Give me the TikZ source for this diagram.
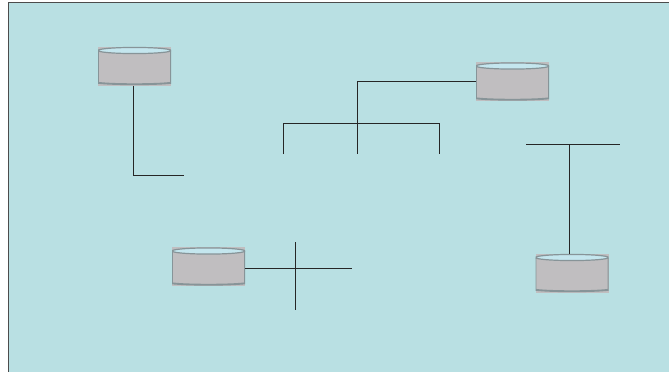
\documentclass[tikz,border=0pt]{standalone}
\definecolor{panel}{RGB}{185,224,227}
\definecolor{drumbody}{RGB}{192,190,192}
\definecolor{drumtop}{RGB}{196,230,238}
\definecolor{drumline}{RGB}{135,148,152}
\begin{document}
\begin{tikzpicture}[x=0.75pt, y=-0.75pt,
    drum/.style={rectangle, fill=drumbody, minimum width=54.75pt, minimum height=29.25pt,
        inner sep=0pt, outer sep=0pt,
        path picture={
            \draw[drumline, line width=1.4pt]
                ([yshift=-3pt]path picture bounding box.north west)
                -- ([yshift=2pt]path picture bounding box.south west)
                .. controls ([shift={(12pt,0.6pt)}]path picture bounding box.south west)
                and ([shift={(-12pt,0.6pt)}]path picture bounding box.south east)
                .. ([yshift=2pt]path picture bounding box.south east)
                -- ([yshift=-3pt]path picture bounding box.north east);
            \draw[drumline, fill=drumtop, line width=0.9pt]
                ([yshift=-3pt]path picture bounding box.north) ellipse (27.4pt and 2.3pt);
        }},
    wire/.style={draw=black!85, line width=0.75pt}]

    \useasboundingbox (0,0) rectangle (669,372);

    % Background
    \fill[white] (0,0) rectangle (669,372);
    \fill[panel] (9,3) rectangle (669,372);
    \draw[black!70, line width=0.9pt] (8.5,372) -- (8.5,2.5) -- (669,2.5);

    % Drums
    \node[drum] (d1) at (134.5,66) {};
    \node[drum] (d2) at (512.5,81.5) {};
    \node[drum] (d3) at (208.5,266.5) {};
    \node[drum] (d4) at (572,273) {};

    % Free ends
    \coordinate (a1) at (133.5,175);
    \coordinate (a2) at (184,175);
    \coordinate (b1) at (357.5,81);
    \coordinate (b3) at (357.5,154);
    \coordinate (l1) at (283,154);
    \coordinate (l2) at (283,123);
    \coordinate (r1) at (439,123);
    \coordinate (r2) at (439,154);
    \coordinate (c1) at (526,144);
    \coordinate (c2) at (569.5,144);
    \coordinate (c3) at (620,144);
    \coordinate (e1) at (352,268);
    \coordinate (e2) at (295,242);
    \coordinate (e3) at (295,310);

    % Connectors
    \draw[wire] (d1.south -| a1) -- (a1) -- (a2);
    \draw[wire] (d2.west |- b1) -- (b1) -- (b3);
    \draw[wire] (l1) -- (l2) -- (r1) -- (r2);
    \draw[wire] (c1) -- (c3);
    \draw[wire] (c2) -- (d4.north -| c2);
    \draw[wire] (d3.east |- e1) -- (e1);
    \draw[wire] (e2) -- (e3);

\end{tikzpicture}
\end{document}
